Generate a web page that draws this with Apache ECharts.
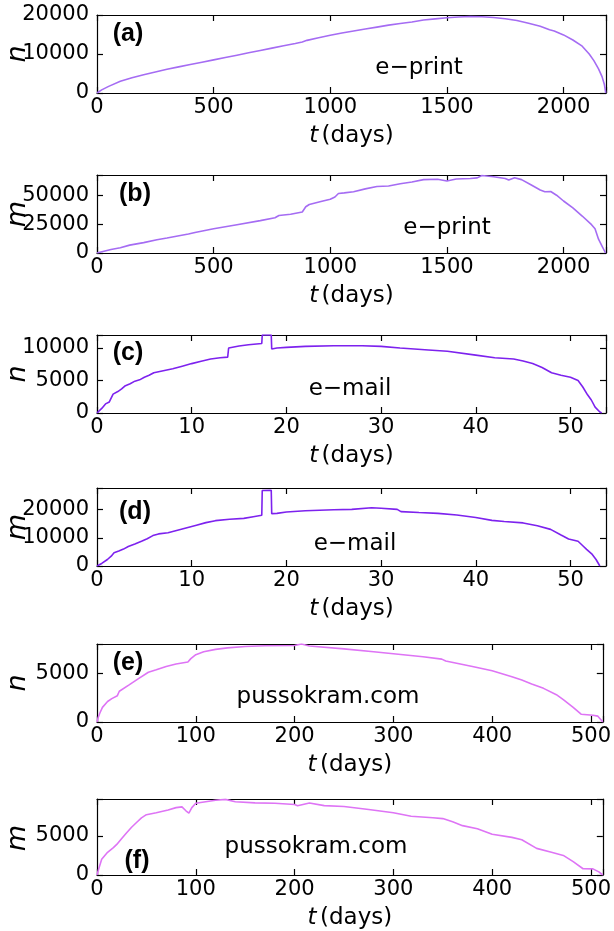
<!DOCTYPE html>
<html>
<head>
<meta charset="utf-8">
<script src="https://cdn.jsdelivr.net/npm/echarts@6/dist/echarts.min.js"></script>
<style>html,body{margin:0;padding:0;background:#fff}#c{width:614px;height:931px}</style>
</head>
<body>
<div id="c"></div>
<script>
// ---- data: [t (days), value] ----
var eprintN = [[0,0],[20,800],[50,1700],[100,3000],[150,3900],[200,4700],[250,5400],[300,6100],[350,6700],[400,7300],[450,7900],[500,8500],[550,9100],[600,9700],[650,10300],[700,10900],[750,11500],[800,12100],[850,12700],[880,13100],[900,13500],[950,14150],[1000,14800],[1050,15400],[1100,15900],[1150,16400],[1200,16900],[1250,17400],[1300,17800],[1350,18200],[1400,18700],[1450,19000],[1500,19300],[1550,19500],[1600,19600],[1650,19550],[1700,19350],[1750,19050],[1800,18600],[1850,17900],[1900,17100],[1940,16200],[1960,15900],[2000,14900],[2040,13600],[2080,12000],[2110,10000],[2130,8300],[2150,6200],[2165,4200],[2175,2200],[2181,0]];
var eprintM = [[0,0],[30,1500],[60,3000],[100,4500],[140,6800],[200,9000],[257,11500],[300,13000],[392,16500],[420,17800],[500,21000],[600,24500],[700,28000],[763,30500],[780,32500],[785,31000],[830,33500],[880,35500],[895,40000],[910,42000],[960,44500],[1000,46500],[1020,48500],[1035,51500],[1060,52000],[1100,53000],[1150,55500],[1200,57500],[1250,58000],[1300,60000],[1350,61500],[1400,63500],[1460,63800],[1500,62300],[1540,64000],[1600,64500],[1630,65000],[1650,67000],[1700,66000],[1750,64500],[1765,63200],[1790,65200],[1820,63500],[1860,59000],[1900,54500],[1920,53000],[1945,53200],[1970,50000],[2000,45000],[2040,39000],[2080,32000],[2120,24500],[2135,21000],[2150,12000],[2165,6000],[2180,0]];
var emailN = [[0,0],[0.5,700],[0.9,1400],[1.3,1700],[1.7,2900],[2.2,3300],[2.6,3700],[3.0,4200],[3.5,4500],[4.0,4900],[4.5,5100],[5.0,5500],[5.5,5800],[6.0,6200],[7.0,6500],[8.0,6800],[9.0,7200],[10,7600],[11,7950],[12,8300],[13,8500],[13.8,8600],[13.9,10000],[15,10300],[16,10500],[17.4,10700],[17.45,12000],[18.4,12000],[18.45,9850],[19,10000],[20,10100],[22,10250],[25,10350],[28,10350],[30,10250],[32,10000],[35,9700],[37,9500],[40,8900],[42,8500],[44,8300],[45,8000],[46,7600],[47,7000],[48,6200],[49,5800],[50,5500],[50.8,5000],[51.3,4000],[51.8,2800],[52.2,2000],[52.6,900],[53.1,150],[53.3,0]];
var emailM = [[0,0],[0.5,900],[1.1,2300],[1.5,3500],[1.8,4700],[2.3,5300],[2.8,6000],[3.3,6900],[4.0,7800],[4.7,8800],[5.3,9700],[5.9,10800],[6.5,11400],[7.5,11800],[8.5,12700],[9.5,13600],[10.5,14500],[11.5,15400],[12.5,16100],[14,16600],[15.5,16900],[16.5,17500],[17.4,18000],[17.45,26800],[18.4,26900],[18.45,18600],[19,18700],[20,19200],[22,19600],[25,20000],[26.9,20100],[27.1,20600],[29,20700],[30,20500],[31.7,20100],[32.1,19300],[34,19000],[36,18700],[38,18100],[40,17200],[41.7,16200],[43,15800],[45,15300],[46.5,14300],[47.9,13000],[49,11000],[49.8,9600],[50.8,8800],[51.3,7200],[51.7,5900],[52.3,4100],[52.7,2300],[53.1,0]];
var pussN = [[0,0],[1,400],[2.8,900],[5.5,1500],[10.7,2100],[15,2400],[20.6,2700],[22.6,3150],[32.5,3800],[42,4450],[52,5100],[60,5350],[70,5700],[80,5950],[92,6150],[95,6500],[100,6900],[108,7200],[120,7450],[132,7600],[150,7750],[170,7820],[200,7850],[207,8000],[215,7800],[250,7500],[280,7200],[300,7000],[330,6700],[349,6450],[353,6250],[380,5700],[400,5250],[420,4650],[430,4300],[440,3900],[452,3450],[465,2800],[472,2300],[482,1500],[490,800],[502,700],[507,600],[512,0]];
var pussM = [[0,0],[2,900],[4.75,2000],[10.7,2900],[16.6,3500],[20,3900],[24.6,4600],[30,5400],[35,6100],[40,6700],[45,7300],[50,7700],[60,7950],[72,8300],[80,8600],[86,8700],[90,8200],[93,7900],[96,8600],[100,9150],[110,9350],[120,9550],[130,9650],[140,9350],[160,9200],[180,9150],[200,9000],[203,8850],[215,9200],[230,8850],[250,8750],[275,8350],[300,7950],[318,7500],[340,7300],[350,7200],[360,6800],[370,6300],[385,5900],[400,5200],[420,4800],[430,4500],[445,3400],[460,2900],[472,2500],[482,1700],[492,800],[502,780],[508,400],[512,0]];

var panelLabels = ['(a)','(b)','(c)','(d)','(e)','(f)'];
var datasetNames = ['e\u2212print','e\u2212print','e\u2212mail','e\u2212mail','pussokram.com','pussokram.com'];
var yNames = ['n','m','n','m','n','m'];
var seriesData = [eprintN, eprintM, emailN, emailM, pussN, pussM];
var xMax = [2182, 2182, 53.75, 53.75, 512, 512];
var xStep = [500, 500, 10, 10, 100, 100];
var yMax = [20000, 67500, 12000, 27700, 8000, 9700];
var yStep = [10000, 25000, 5000, 10000, 5000, 5000];

// ---- layout / style ----
var FONT = '"DejaVu Sans", "Liberation Sans", Arial, sans-serif';
var LFONT = '"Liberation Sans", Arial, sans-serif';
var colors = ['#a56cf3','#a56cf3','#7d22ee','#7d22ee','#de74f5','#de74f5'];
var tops = [15, 175, 335, 488, 644, 799];
var H = 78, LEFT = 97, RIGHT = 8;
var labelPos = [[128,34],[135,194],[128,353],[135,512],[128,663],[137,861]];
var namePos = [[419,68.5],[447,228.5],[350,389.5],[355,544.5],[328,697.5],[316,847.5]];
var yNameX = 18;

function mkFmt(step) {
  return function (v) { return (Math.abs(v / step - Math.round(v / step)) < 1e-9) ? String(v) : ''; };
}

var grids = [], xAxes = [], yAxes = [], series = [], graphics = [];
var lineSty = {color: '#000', width: 1.2};
for (var i = 0; i < 6; i++) {
  grids.push({left: LEFT, right: RIGHT, top: tops[i], height: H});
  xAxes.push({
    gridIndex: i, type: 'value', min: 0, max: xMax[i], interval: xStep[i],
    axisLine: {onZero: false, lineStyle: lineSty},
    axisTick: {inside: true, length: 6, lineStyle: lineSty},
    axisLabel: {color: '#000', fontSize: 21, fontFamily: FONT, margin: 4, formatter: mkFmt(xStep[i])},
    splitLine: {show: false},
    name: '{i|t} {n|(days)}', nameLocation: 'middle', nameGap: 32,
    nameTextStyle: {rich: {
      i: {fontStyle: 'italic', fontSize: 23, fontFamily: FONT, color: '#000'},
      n: {fontSize: 23, fontFamily: FONT, color: '#000'}
    }}
  });
  xAxes.push({
    gridIndex: i, type: 'value', position: 'top', min: 0, max: xMax[i], interval: xStep[i],
    axisLine: {onZero: false, lineStyle: lineSty},
    axisTick: {inside: true, length: 6, lineStyle: lineSty},
    axisLabel: {show: false}, splitLine: {show: false}
  });
  yAxes.push({
    gridIndex: i, type: 'value', min: 0, max: yMax[i], interval: yStep[i],
    axisLine: {show: true, onZero: false, lineStyle: lineSty},
    axisTick: {show: true, inside: true, length: 6, lineStyle: lineSty},
    axisLabel: {color: '#000', fontSize: 21, fontFamily: FONT, margin: 8, formatter: mkFmt(yStep[i])},
    splitLine: {show: false}
  });
  yAxes.push({
    gridIndex: i, type: 'value', position: 'right', min: 0, max: yMax[i], interval: yStep[i],
    axisLine: {show: true, onZero: false, lineStyle: lineSty},
    axisTick: {show: true, inside: true, length: 6, lineStyle: lineSty},
    axisLabel: {show: false}, splitLine: {show: false}
  });
  series.push({
    type: 'line', xAxisIndex: 2*i, yAxisIndex: 2*i, data: seriesData[i],
    showSymbol: false, symbol: 'none', clip: true, animation: false,
    lineStyle: {color: colors[i], width: 1.6}
  });
  graphics.push({type: 'text', x: labelPos[i][0], y: labelPos[i][1], style: {
    text: panelLabels[i], font: 'bold 25px ' + LFONT, fill: '#000', textAlign: 'center', textVerticalAlign: 'middle'}});
  graphics.push({type: 'text', x: namePos[i][0], y: namePos[i][1], style: {
    text: datasetNames[i], font: '23px ' + FONT, fill: '#000', textAlign: 'center', textVerticalAlign: 'middle'}});
  graphics.push({type: 'text', x: yNameX, y: tops[i] + H/2, rotation: Math.PI/2, style: {
    text: yNames[i], font: 'italic 27px ' + FONT, fill: '#000', textAlign: 'center', textVerticalAlign: 'middle'}});
}

var chart = echarts.init(document.getElementById('c'), null, {renderer: 'canvas'});
chart.setOption({
  animation: false,
  backgroundColor: '#fff',
  grid: grids, xAxis: xAxes, yAxis: yAxes, series: series, graphic: graphics
});
</script>
</body>
</html>
